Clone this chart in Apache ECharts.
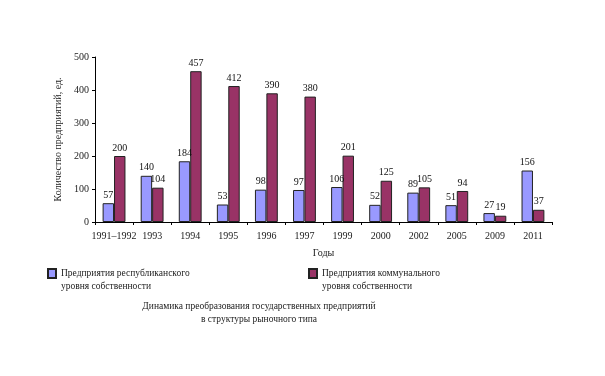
<!DOCTYPE html>
<html>
<head>
    <meta charset="utf-8">
    <title>Динамика преобразования</title>
    <style>
        html, body { margin: 0; padding: 0; background: #fff; }
        #chart { width: 605px; height: 376px; }
    </style>
</head>
<body>
    <div id="chart"></div>
    <script src="https://cdn.jsdelivr.net/npm/echarts@6/dist/echarts.min.js"></script>
    <script>
        // годы
        var years = ['1991–1992', '1993', '1994', '1995', '1996', '1997', '1999', '2000', '2002', '2005', '2009', '2011'];
        // республиканская собственность
        var respValues = [57, 140, 184, 53, 98, 97, 106, 52, 89, 51, 27, 156];
        // коммунальная собственность
        var communValues = [200, 104, 457, 412, 390, 380, 201, 125, 105, 94, 19, 37];
        var yTicks = [0, 100, 200, 300, 400, 500];

        var serif = '"Liberation Serif", "DejaVu Serif", serif';
        var chart = echarts.init(document.getElementById('chart'));

        var labelCfg = {
            show: true,
            position: 'top',
            distance: 3,
            color: '#111',
            fontFamily: serif,
            fontSize: 10
        };

        var legendText = {
            fontFamily: serif,
            fontSize: 9.5,
            color: '#222',
            lineHeight: 13
        };
        // пустая первая строка, чтобы значок стоял напротив первой строки подписи
        var legendFmt = function (name) {
            return ' \n' + name;
        };

        chart.setOption({
            backgroundColor: '#fff',
            animation: false,
            textStyle: { fontFamily: serif, color: '#000' },
            title: {
                text: 'Динамика преобразования государственных предприятий\nв структуры рыночного типа',
                left: 254,
                top: 295,
                textAlign: 'center',
                textStyle: {
                    fontFamily: serif,
                    fontSize: 9.5,
                    fontWeight: 'normal',
                    color: '#222',
                    lineHeight: 13
                }
            },
            legend: [{
                data: ['Предприятия республиканского\nуровня собственности'],
                left: 42,
                top: 249,
                icon: 'rect',
                itemWidth: 8,
                itemHeight: 9,
                itemGap: 4,
                formatter: legendFmt,
                textStyle: legendText
            }, {
                data: ['Предприятия коммунального\nуровня собственности'],
                left: 303,
                top: 249,
                icon: 'rect',
                itemWidth: 8,
                itemHeight: 9,
                formatter: legendFmt,
                textStyle: legendText
            }],
            grid: { left: 95, right: 53, top: 57, bottom: 154, containLabel: false },
            xAxis: {
                type: 'category',
                data: years,
                name: 'Годы',
                nameLocation: 'middle',
                nameGap: 26,
                nameTextStyle: { fontFamily: serif, fontSize: 10, color: '#222' },
                axisLine: { lineStyle: { color: '#000', width: 1 } },
                axisTick: { show: true, length: 3, lineStyle: { color: '#000' } },
                axisLabel: { fontFamily: serif, fontSize: 10, color: '#222', margin: 9, interval: 0 }
            },
            yAxis: {
                type: 'value',
                min: yTicks[0],
                max: yTicks[yTicks.length - 1],
                interval: 100,
                name: 'Количество предприятий, ед.',
                nameLocation: 'middle',
                nameGap: 29,
                nameTextStyle: { fontFamily: serif, fontSize: 10, color: '#222' },
                axisLine: { show: true, lineStyle: { color: '#000', width: 1 } },
                axisTick: { show: true, length: 3, lineStyle: { color: '#000' } },
                axisLabel: { fontFamily: serif, fontSize: 10, color: '#222', margin: 6 },
                splitLine: { show: false }
            },
            series: [{
                name: 'Предприятия республиканского\nуровня собственности',
                type: 'bar',
                data: respValues,
                barWidth: '30%',
                barGap: '0%',
                itemStyle: { color: '#9999ff', borderColor: '#222', borderWidth: 1 },
                label: labelCfg
            }, {
                name: 'Предприятия коммунального\nуровня собственности',
                type: 'bar',
                data: communValues,
                barWidth: '30%',
                barGap: '0%',
                itemStyle: { color: '#993366', borderColor: '#222', borderWidth: 1 },
                label: labelCfg
            }]
        });

        window.addEventListener('resize', function () {
            chart.resize();
        });
    </script>
</body>
</html>
